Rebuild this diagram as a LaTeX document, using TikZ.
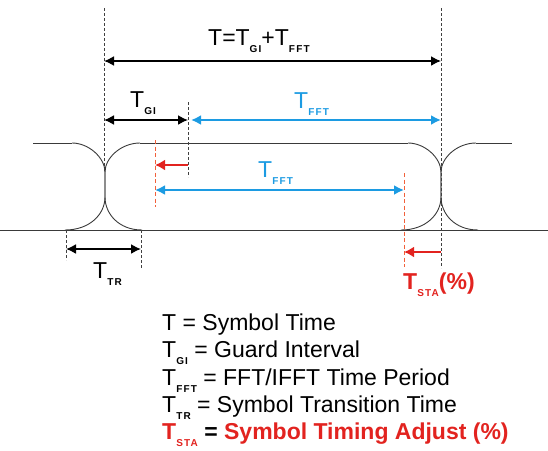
\documentclass[tikz,border=0pt]{standalone}
\usepackage{fontspec}
\setmainfont{Liberation Sans}
\usepackage{xcolor}
\definecolor{sigline}{HTML}{3A3A3A}
\definecolor{skyblue}{HTML}{1C9BE2}
\definecolor{stared}{HTML}{E2231F}
\definecolor{guidered}{HTML}{F2603A}
\usepackage{tikz}
\usetikzlibrary{positioning,arrows.meta,calc}

% small lowered index in the style of the drawing
\newcommand{\idx}[1]{\raisebox{-7.5pt}{\fontsize{10}{10}\selectfont\bfseries\addfontfeatures{LetterSpace=12}#1}}

\begin{document}
\begin{tikzpicture}[
  x=1pt, y=-1pt,
  font=\fontsize{23}{26}\selectfont,
  sig/.style={draw=sigline, line width=0.9pt},
  guide/.style={draw=black!75, line width=0.7pt, dash pattern=on 3pt off 2pt},
  redguide/.style={draw=guidered, line width=0.8pt, dash pattern=on 4pt off 2.5pt},
  dim/.style={<->, draw=black, line width=1.6pt, >={Latex[length=10pt,width=10pt]}},
  fftdim/.style={<->, draw=skyblue, line width=2.4pt, >={Latex[length=10pt,width=10pt]}},
  shiftarrow/.style={->, draw=stared, line width=2.8pt, >={Latex[length=10pt,width=11pt]}},
  lbl/.style={anchor=base west, inner sep=0pt},
]
\useasboundingbox (0,0) rectangle (548,450);

% Signal: two symbol transitions and the flat levels
\draw[sig] (0,230) -- (548,230);
\foreach \xc in {105,441} {
  % falling edge
  \draw[sig] (\xc-33,143) .. controls (\xc-16,143) and (\xc,158) .. (\xc,172)
    -- (\xc,197) .. controls (\xc,214) and (\xc+14,230) .. (\xc+37,230);
  % rising edge
  \draw[sig] (\xc-40,230) .. controls (\xc-15,230) and (\xc,214) .. (\xc,197)
    -- (\xc,172) .. controls (\xc,158) and (\xc+16,143) .. (\xc+35,143);
}
\draw[sig] (33,143) -- (72,143);
\draw[sig] (140,143) -- (408,143);
\draw[sig] (476,143) -- (512,143);

% Guide lines
\coordinate (sTop)  at (104,8);
\coordinate (sX)    at (104,172);
\coordinate (eTop)  at (441,8);
\coordinate (eBot)  at (441,268);
\coordinate (giTop) at (188,102);
\coordinate (giBot) at (188,177);
\coordinate (fTop)  at (155,140);
\coordinate (fBot)  at (155,207);
\coordinate (aTop)  at (404,173);
\coordinate (aBot)  at (404,267);
\coordinate (trTopL) at (66,230);
\coordinate (trBotL) at (66,260);
\coordinate (trTopR) at (141,230);
\coordinate (trBotR) at (141,268);

\draw[guide] (sTop) -- (sX);
\draw[guide] (eTop) -- (eBot);
\draw[guide] (giTop) -- (giBot);
\draw[guide] (trTopL) -- (trBotL);
\draw[guide] (trTopR) -- (trBotR);
\draw[redguide] (fTop) -- (fBot);
\draw[redguide] (aTop) -- (aBot);

% Arrow end points on the guides
\coordinate (tL)   at (104,61);
\coordinate (tR)   at (441,61);
\coordinate (giL)  at (104,120);
\coordinate (giR)  at (188,120);
\coordinate (fftL) at (191,120);
\coordinate (fftR) at (441,120);
\coordinate (shA)  at (188,165);
\coordinate (shB)  at (155,165);
\coordinate (adjL) at (155,190);
\coordinate (adjR) at (404,190);
\coordinate (trL)  at (66,249);
\coordinate (trR)  at (141,249);
\coordinate (staA) at (441,252);
\coordinate (staB) at (404,252);

\draw[dim] (tL) -- (tR);
\draw[dim] (giL) -- (giR);
\draw[fftdim] (fftL) -- (fftR);
\draw[shiftarrow] (shA) -- (shB);
\draw[fftdim] (adjL) -- (adjR);
\draw[dim] (trL) -- (trR);
\draw[shiftarrow] (staA) -- (staB);

% Labels
\node[lbl] (total)  at (208,45)  {T=T\idx{GI}+T\idx{FFT}};
\node[lbl] (gi)     at (130,107) {T\idx{GI}};
\node[lbl, text=skyblue] (fft)    at (294,108) {T\idx{FFT}};
\node[lbl, text=skyblue] (fftadj) at (258,177) {T\idx{FFT}};
\node[lbl] (tr)     at (93,278)  {T\idx{TR}};
\node[lbl, text=stared, font=\fontsize{23}{26}\selectfont\bfseries] (sta) at (403,289) {T\idx{STA}(\%)};

% Legend
\node[lbl] (leg1) at (162,330) {T = Symbol Time};
\node[lbl] (leg2) at (162,357) {T\idx{GI} = Guard Interval};
\node[lbl] (leg3) at (162,385) {T\idx{FFT} = FFT/IFFT Time Period};
\node[lbl] (leg4) at (162,412) {T\idx{TR} = Symbol Transition Time};
\node[lbl, font=\fontsize{23}{26}\selectfont\bfseries] (leg5) at (162,439)
  {\textcolor{stared}{T\idx{STA}} = \textcolor{stared}{Symbol Timing Adjust (\%)}};

\end{tikzpicture}
\end{document}
